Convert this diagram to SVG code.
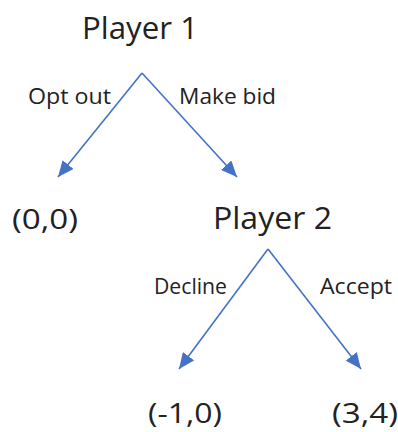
<svg xmlns="http://www.w3.org/2000/svg" width="398" height="432" viewBox="0 0 398 432">
<defs>
<style>
.t{font-family:"Open Sans","Liberation Sans",sans-serif;fill:#222;}
.big{font-size:31px;}
.mid{font-size:28px;}
.sm{font-size:21.5px;}
.e{stroke:#4472C4;stroke-width:1.6;fill:none;}
</style>
<marker id="ah" viewBox="0 0 16 14" refX="16" refY="7" markerWidth="16" markerHeight="14" markerUnits="userSpaceOnUse" orient="auto">
<path d="M0,0 L16,7 L0,14 Z" fill="#4472C4"/>
</marker>
</defs>
<rect width="398" height="432" fill="#fff"/>
<g id="connectors">
<line class="e" x1="142" y1="73" x2="58" y2="177" marker-end="url(#ah)"/>
<line class="e" x1="142" y1="73" x2="237" y2="177" marker-end="url(#ah)"/>
<line class="e" x1="268" y1="249" x2="179" y2="369" marker-end="url(#ah)"/>
<line class="e" x1="268" y1="249" x2="361" y2="369" marker-end="url(#ah)"/>
<text class="t sm" x="28" y="104" textLength="83" lengthAdjust="spacingAndGlyphs">Opt out</text>
<text class="t sm" x="179" y="104" textLength="97" lengthAdjust="spacingAndGlyphs">Make bid</text>
<text class="t sm" x="154" y="294" textLength="73" lengthAdjust="spacingAndGlyphs">Decline</text>
<text class="t sm" x="320" y="294" textLength="72" lengthAdjust="spacingAndGlyphs">Accept</text>
</g>
<g id="player1"><text class="t big" x="82" y="39" textLength="116" lengthAdjust="spacingAndGlyphs">Player 1</text></g>
<g id="payoff00"><text class="t mid" x="12" y="229" textLength="66" lengthAdjust="spacingAndGlyphs">(0,0)</text></g>
<g id="player2"><text class="t big" x="213" y="229" textLength="119" lengthAdjust="spacingAndGlyphs">Player 2</text></g>
<g id="payoffm10"><text class="t mid" x="148" y="423" textLength="74" lengthAdjust="spacingAndGlyphs">(-1,0)</text></g>
<g id="payoff34"><text class="t mid" x="332" y="423" textLength="66" lengthAdjust="spacingAndGlyphs">(3,4)</text></g>
</svg>
